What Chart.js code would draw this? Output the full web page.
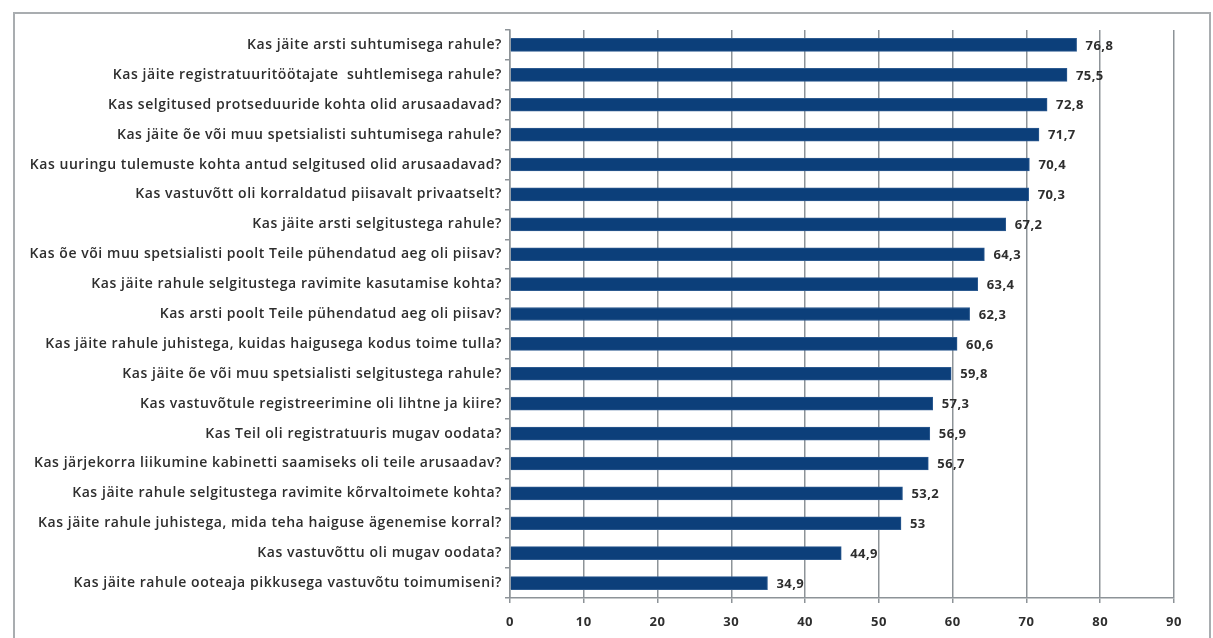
<!DOCTYPE html>
<html>
<head>
<meta charset="utf-8">
<script src="https://cdn.jsdelivr.net/npm/chart.js@4"></script>
<style>
    body { margin: 0; background: #fff; }
    #cadre { position: absolute; left: 13px; top: 12px; width: 1194px; height: 640px; border: 2px solid #a9adb0; border-bottom: none; }
    #zone { position: absolute; left: 0; top: 0; width: 1213px; height: 638px; }
</style>
</head>
<body>
<div id="cadre"></div>
<div id="zone"><canvas id="myChart"></canvas></div>
<script>
// questions (du haut vers le bas)
const questions = [
    "Kas jäite arsti suhtumisega rahule?",
    "Kas jäite registratuuritöötajate  suhtlemisega rahule?",
    "Kas selgitused protseduuride kohta olid arusaadavad?",
    "Kas jäite õe või muu spetsialisti suhtumisega rahule?",
    "Kas uuringu tulemuste kohta antud selgitused olid arusaadavad?",
    "Kas vastuvõtt oli korraldatud piisavalt privaatselt?",
    "Kas jäite arsti selgitustega rahule?",
    "Kas õe või muu spetsialisti poolt Teile pühendatud aeg oli piisav?",
    "Kas jäite rahule selgitustega ravimite kasutamise kohta?",
    "Kas arsti poolt Teile pühendatud aeg oli piisav?",
    "Kas jäite rahule juhistega, kuidas haigusega kodus toime tulla?",
    "Kas jäite õe või muu spetsialisti selgitustega rahule?",
    "Kas vastuvõtule registreerimine oli lihtne ja kiire?",
    "Kas Teil oli registratuuris mugav oodata?",
    "Kas järjekorra liikumine kabinetti saamiseks oli teile arusaadav?",
    "Kas jäite rahule selgitustega ravimite kõrvaltoimete kohta?",
    "Kas jäite rahule juhistega, mida teha haiguse ägenemise korral?",
    "Kas vastuvõttu oli mugav oodata?",
    "Kas jäite rahule ooteaja pikkusega vastuvõtu toimumiseni?"
];

const valeurs = [76.8, 75.5, 72.8, 71.7, 70.4, 70.3, 67.2, 64.3, 63.4, 62.3, 60.6, 59.8, 57.3, 56.9, 56.7, 53.2, 53, 44.9, 34.9];

const graduations = [0, 10, 20, 30, 40, 50, 60, 70, 80, 90];

const police = "'Open Sans', sans-serif";

// espacement des lettres (le texte de l'original est plus large)
const espacement = {
    id: 'espacement',
    beforeDraw(chart) {
        chart.ctx.letterSpacing = "0.55px";
    }
};

// ecrit la valeur au bout de chaque barre
const etiquettes = {
    id: 'etiquettes',
    afterDatasetsDraw(chart) {
        const ctx = chart.ctx;
        const meta = chart.getDatasetMeta(0);
        ctx.save();
        ctx.font = "bold 13px " + police;
        ctx.letterSpacing = "0.4px";
        ctx.fillStyle = "#2e2e2e";
        ctx.textAlign = "left";
        ctx.textBaseline = "middle";
        meta.data.forEach((barre, i) => {
            let texte = String(valeurs[i]).replace(".", ",");
            ctx.fillText(texte, barre.x + 9, barre.y + 1);
        });
        ctx.restore();
    }
};

const config = {
    type: 'bar',
    data: {
        labels: questions,
        datasets: [{
            data: valeurs,
            backgroundColor: '#0c3f7a',
            borderColor: '#2c5a90',
            borderWidth: 1,
            barThickness: 13
        }]
    },
    options: {
        indexAxis: 'y',
        responsive: false,
        animation: false,
        layout: {
            padding: { top: 30, right: 39, left: 0, bottom: 0 }
        },
        plugins: {
            legend: { display: false },
            tooltip: { enabled: false }
        },
        scales: {
            x: {
                min: 0,
                max: 90,
                afterBuildTicks: scale => {
                    scale.ticks = graduations.map(v => ({ value: v }));
                },
                afterFit: scale => { scale.height = 40; },
                grid: { color: '#8d9398', lineWidth: 1.5, tickLength: 5 },
                border: { color: '#8d9398', width: 1.5 },
                ticks: {
                    padding: 11,
                    color: '#2e2e2e',
                    font: { family: police, size: 13, weight: 'bold' }
                }
            },
            y: {
                afterFit: scale => { scale.width = 510; },
                grid: { drawOnChartArea: false, color: '#8d9398', lineWidth: 1.5, tickLength: 5 },
                border: { color: '#8d9398', width: 1.5 },
                ticks: {
                    padding: 3,
                    color: '#2e2e2e',
                    font: { family: police, size: 14, weight: '600' }
                }
            }
        }
    },
    plugins: [espacement, etiquettes]
};

const canvas = document.getElementById('myChart');
canvas.width = 1213;
canvas.height = 638;
new Chart(canvas.getContext('2d'), config);
</script>
</body>
</html>
